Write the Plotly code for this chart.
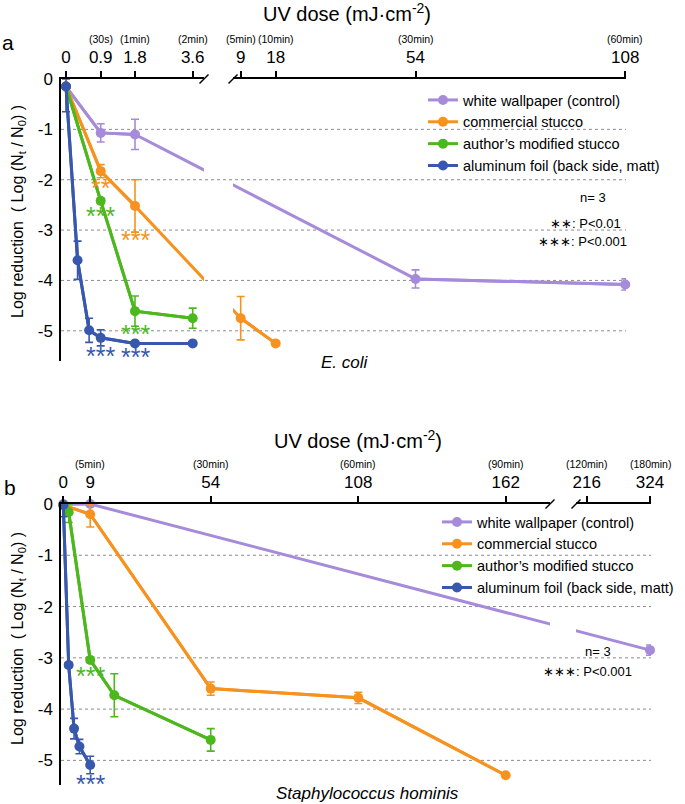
import numpy as np
import plotly.graph_objects as go

W, H = 685, 804
FONT = "Liberation Sans, Arial, Helvetica, sans-serif"

SERIES_NAMES = ["white wallpaper (control)", "commercial stucco",
                "author\u2019s modified stucco", "aluminum foil (back side, matt)"]
COLORS = ["#a68bda", "#f7921e", "#4db81d", "#3858ae"]

# ---------------- panel a : E. coli ----------------
A_TICK_DOSE = [0, 0.9, 1.8, 3.6, 9, 18, 54, 108]
A_TICK_TEXT = ["0", "0.9", "1.8", "3.6", "9", "18", "54", "108"]
A_TICK_TIME = ["", "(30s)", "(1min)", "(2min)", "(5min)", "(10min)", "(30min)", "(60min)"]

A_WALL_DOSE = [0, 0.9, 1.8, 54, 108]
A_WALL_LR = [-0.15, -1.07, -1.10, -3.97, -4.08]
A_WALL_SD = [0.0, 0.18, 0.30, 0.18, 0.11]

A_COMM_DOSE = [0, 0.9, 1.8, 9, 18]
A_COMM_LR = [-0.15, -1.83, -2.52, -4.75, -5.25]
A_COMM_SD = [0.0, 0.13, 0.52, 0.43, 0.0]

A_MOD_DOSE = [0, 0.9, 1.8, 3.6]
A_MOD_LR = [-0.15, -2.42, -4.61, -4.75]
A_MOD_SD = [0.0, 0.05, 0.30, 0.20]

A_FOIL_DOSE = [0, 0.3, 0.6, 0.9, 1.8, 3.6]
A_FOIL_LR = [-0.15, -3.60, -4.99, -5.14, -5.25, -5.25]
A_FOIL_SD = [0.50, 0.38, 0.24, 0.16, 0.0, 0.0]

# significance marks: (series index, dose, label)
A_SIG = [(1, 0.9, "**"), (2, 0.9, "***"), (1, 1.8, "***"),
         (2, 1.8, "***"), (3, 0.9, "***"), (3, 1.8, "***")]

# ---------------- panel b : Staphylococcus hominis ----------------
B_TICK_DOSE = [0, 9, 54, 108, 162, 216, 324]
B_TICK_TEXT = ["0", "9", "54", "108", "162", "216", "324"]
B_TICK_TIME = ["", "(5min)", "(30min)", "(60min)", "(90min)", "(120min)", "(180min)"]

B_WALL_DOSE = [0, 9, 324]
B_WALL_LR = [0.0, 0.0, -2.85]
B_WALL_SD = [0.0, 0.03, 0.10]

B_COMM_DOSE = [0, 9, 54, 108, 162]
B_COMM_LR = [-0.02, -0.20, -3.60, -3.78, -5.29]
B_COMM_SD = [0.0, 0.25, 0.13, 0.11, 0.0]

B_MOD_DOSE = [0, 1.8, 9, 18, 54]
B_MOD_LR = [-0.02, -0.16, -3.04, -3.73, -4.60]
B_MOD_SD = [0.0, 0.20, 0.05, 0.42, 0.22]

B_FOIL_DOSE = [0, 1.8, 3.6, 5.4, 9]
B_FOIL_LR = [-0.02, -3.14, -4.38, -4.73, -5.09]
B_FOIL_SD = [0.23, 0.05, 0.20, 0.14, 0.17]

B_SIG = [(2, 9, "***"), (3, 9, "***")]

Y_TICKS = [0, -1, -2, -3, -4, -5]
Y_TICK_TEXT = ["0", "-1", "-2", "-3", "-4", "-5"]

# ---------------- scale / layout settings (broken axis) ----------------
# piecewise-linear dose scale (dose knots -> pixel offset from dose 0)
PANELS = {
    "a": dict(kd=[0, 0.9, 1.8, 3.6, 9, 108], kp=[0, 34.7, 69, 126.7, 174.7, 559.3],
              x0=66.0, left=(61, 204), right=(233, 626), ytop=79, ybot=361, ymin=-5.6,
              axes=("x", "x2", "y"), legend="legend",
              sig_off=[14, 12, 31, 20, 15, 11]),
    "b": dict(kd=[0, 9, 54, 108, 162, 216, 324], kp=[0, 26.9, 147.4, 295, 442.4, 523.4, 586.7],
              x0=63.3, left=(61, 550), right=(576, 651), ytop=504, ybot=785, ymin=-5.48,
              axes=("x3", "x4", "y2"), legend="legend2",
              sig_off=[13, 16]),
}

def px(x):
    return x / W

def py(y):
    return 1 - y / H

fig = go.Figure()
annotations = []
shapes = []


def axis_key(a):
    return ("xaxis" if a[0] == "x" else "yaxis") + a[1:]


def build_panel(p, series, tick_dose, tick_text, tick_time, sig):
    xl, xr, yy = p["axes"]
    split = p["left"][1] - p["x0"]
    for i, (dose, lr, sd) in enumerate(series):
        pos = np.interp(dose, p["kd"], p["kp"])
        v = np.array(lr, dtype=float)
        e = np.array(sd, dtype=float)
        up = np.minimum(e, -v)
        col = COLORS[i]
        for xa in (xl, xr):
            fig.add_trace(go.Scatter(x=pos, y=v, mode="lines", xaxis=xa, yaxis=yy,
                                     line=dict(color=col, width=3), showlegend=False,
                                     hoverinfo="skip"))
        for xa, mask in ((xl, pos <= split), (xr, pos > split)):
            if not mask.any():
                continue
            fig.add_trace(go.Scatter(
                x=pos[mask], y=v[mask], mode="lines+markers", xaxis=xa, yaxis=yy,
                name=SERIES_NAMES[i], legend=p["legend"], showlegend=(xa == xl),
                line=dict(color=col, width=3), marker=dict(color=col, size=10),
                cliponaxis=False,
                error_y=dict(type="data", symmetric=False, array=up[mask],
                             arrayminus=e[mask], color=col, thickness=1.6, width=4)))
    # significance stars
    for (si, d, lab), off in zip(sig, p["sig_off"]):
        dose, lr, _ = series[si]
        k = list(dose).index(d)
        annotations.append(dict(x=float(np.interp(d, p["kd"], p["kp"])), y=lr[k],
                                xref=xl, yref=yy, text=lab, showarrow=False,
                                yshift=-(off + 3), font=dict(size=25, color=COLORS[si], family=FONT)))
    # axes
    tpos = np.interp(tick_dose, p["kd"], p["kp"])
    for xa, (d0, d1) in ((xl, p["left"]), (xr, p["right"])):
        r0, r1 = d0 - p["x0"], d1 - p["x0"]
        sel = [j for j, t in enumerate(tpos) if r0 - 0.5 <= t <= r1 + 0.5]
        fig.layout[axis_key(xa)] = dict(
            domain=[px(d0), px(d1)], range=[r0, r1], anchor=yy, side="top",
            showline=True, linecolor="black", linewidth=1.5, ticks="outside",
            ticklen=6, tickwidth=1.5, tickcolor="black", automargin=False,
            tickvals=[float(tpos[j]) for j in sel], ticktext=[tick_text[j] for j in sel],
            tickfont=dict(size=17, color="black", family=FONT), ticklabelstandoff=1,
            showgrid=False, zeroline=False, fixedrange=True)
        for j in sel:
            if tick_time[j]:
                annotations.append(dict(x=float(tpos[j]), y=0, xref=xa, yref=yy,
                                        text=tick_time[j], showarrow=False, yshift=40,
                                        font=dict(size=10.5, color="black", family=FONT)))
    fig.layout[axis_key(yy)] = dict(
        domain=[py(p["ybot"]), py(p["ytop"])], range=[p["ymin"], 0], anchor=xl,
        showline=True, linecolor="black", linewidth=1.5, ticks="", automargin=False,
        tickvals=Y_TICKS, ticktext=Y_TICK_TEXT, ticklabelstandoff=3,
        tickfont=dict(size=17, color="black", family=FONT),
        showgrid=False, zeroline=False, fixedrange=True)
    # dotted grid lines
    for t in Y_TICKS[1:]:
        shapes.append(dict(type="line", xref="paper", yref=yy, x0=px(p["left"][0]),
                           x1=px(p["right"][1]), y0=t, y1=t, layer="below",
                           line=dict(color="#8c8c8c", width=1, dash="dot")))
    # break slashes
    yax = p["ytop"]
    for xc in (p["left"][1], p["right"][0]):
        shapes.append(dict(type="line", xref="paper", yref="paper",
                           x0=px(xc - 4.5), y0=py(yax + 4.5), x1=px(xc + 4.5), y1=py(yax - 4.5),
                           line=dict(color="black", width=1.5)))


series_a = [(A_WALL_DOSE, A_WALL_LR, A_WALL_SD), (A_COMM_DOSE, A_COMM_LR, A_COMM_SD),
            (A_MOD_DOSE, A_MOD_LR, A_MOD_SD), (A_FOIL_DOSE, A_FOIL_LR, A_FOIL_SD)]
series_b = [(B_WALL_DOSE, B_WALL_LR, B_WALL_SD), (B_COMM_DOSE, B_COMM_LR, B_COMM_SD),
            (B_MOD_DOSE, B_MOD_LR, B_MOD_SD), (B_FOIL_DOSE, B_FOIL_LR, B_FOIL_SD)]

build_panel(PANELS["a"], series_a, A_TICK_DOSE, A_TICK_TEXT, A_TICK_TIME, A_SIG)
build_panel(PANELS["b"], series_b, B_TICK_DOSE, B_TICK_TEXT, B_TICK_TIME, B_SIG)


def txt(x, y, text, size, xanchor="center", italic=False, angle=0):
    annotations.append(dict(x=px(x), y=py(y), xref="paper", yref="paper", text=text,
                            showarrow=False, xanchor=xanchor, yanchor="middle", textangle=angle,
                            font=dict(size=size, color="black", family=FONT,
                                      style="italic" if italic else "normal")))


UV_TITLE = "UV dose (mJ\u00b7cm<sup>-2</sup>)"
YTITLE = "Log reduction  ( Log (N<sub>t</sub> / N<sub>0</sub>) )"

txt(347, 13, UV_TITLE, 20)
txt(358, 440, UV_TITLE, 20)
txt(8, 43, "a", 21)
txt(10, 487, "b", 21)
txt(18, 212, YTITLE, 16, angle=-90)
txt(18, 639, YTITLE, 16, angle=-90)
txt(345, 362, "E. coli", 17, italic=True)
txt(367, 793, "Staphylococcus hominis", 17, italic=True)
txt(593, 198, "n= 3", 13)
txt(623, 223, "\u2217\u2217: P<0.01", 13, xanchor="right")
txt(629, 241, "\u2217\u2217\u2217: P<0.001", 13, xanchor="right")
txt(598, 651, "n= 3", 13)
txt(634, 671, "\u2217\u2217\u2217: P<0.001", 13, xanchor="right")

legend_style = dict(xanchor="left", yanchor="top", bgcolor="rgba(0,0,0,0)",
                    font=dict(size=14.5, color="black", family=FONT), tracegroupgap=0,
                    itemclick=False, itemdoubleclick=False)

fig.update_layout(
    width=W, height=H, margin=dict(l=0, r=0, t=0, b=0, pad=0, autoexpand=False),
    paper_bgcolor="white", plot_bgcolor="white",
    font=dict(family=FONT, color="black"),
    legend=dict(x=px(423), y=py(84), **legend_style),
    legend2=dict(x=px(437), y=py(506), **legend_style),
    annotations=annotations, shapes=shapes, hovermode=False,
)

# remove the page's default 8px body margin so the figure sits at the window's corner
fig.write_html("out.html", config={"displayModeBar": False},
               post_script="document.body.style.margin='0px';")
